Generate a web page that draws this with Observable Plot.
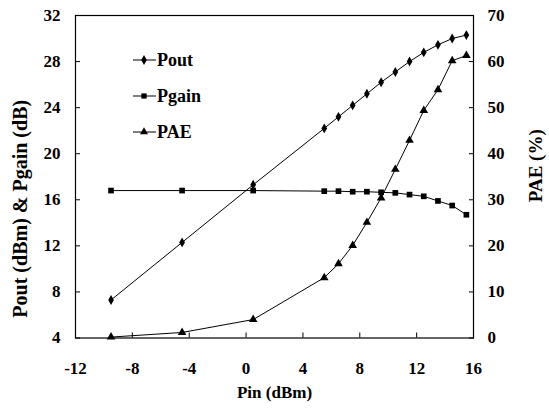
<!DOCTYPE html>
<html><head><meta charset="utf-8">
<script src="https://cdn.jsdelivr.net/npm/d3@7"></script>
<script src="https://cdn.jsdelivr.net/npm/@observablehq/plot@0.6"></script>
<style>
body{margin:0;background:#fff;overflow:hidden;}
#wrap{position:relative;width:549px;height:416px;}
#legend{position:absolute;left:130px;top:42px;}
</style></head>
<body><div id="wrap"><div id="chart"></div><svg id="legend" width="110" height="110"></svg></div>
<script>
const pin   = [-9.5, -4.5, 0.5, 5.5, 6.5, 7.5, 8.5, 9.5, 10.5, 11.5, 12.5, 13.5, 14.5, 15.5];
const pout  = [7.3, 12.3, 17.3, 22.2, 23.2, 24.2, 25.2, 26.2, 27.1, 28.0, 28.8, 29.45, 30.0, 30.3];
const pgain = [16.8, 16.8, 16.8, 16.75, 16.75, 16.7, 16.7, 16.65, 16.6, 16.45, 16.3, 15.9, 15.5, 14.7];
const pae   = [0.2, 1.2, 4.0, 13.1, 16.1, 20.1, 25.1, 30.4, 36.6, 42.9, 49.4, 53.9, 60.2, 61.3];
const xTicks = [-12, -8, -4, 0, 4, 8, 12, 16];
const leftTicks = [4, 8, 12, 16, 20, 24, 28, 32];
const rightTicks = [0, 10, 20, 30, 40, 50, 60, 70];
const seriesNames = ["Pout", "Pgain", "PAE"];
const symbols = ["diamond", "square", "triangle"];

const FF = "Times New Roman, Liberation Serif, Tinos, serif";
const FW = "bold";

// map PAE (0..70) onto left scale (4..32)
const toLeft = v => 4 + (v - 0) * (32 - 4) / (70 - 0);
const rows = pin.map((x, i) => ({x, pout: pout[i], pgain: pgain[i], pae: toLeft(pae[i])}));

function draw() {
  const chart = Plot.plot({
    width: 549, height: 416,
    marginLeft: 75, marginRight: 76, marginTop: 15, marginBottom: 78.5,
    style: {background: "#fff", color: "#000", fontFamily: FF},
    x: {domain: [-12, 16]},
    y: {domain: [4, 32]},
    marks: [
      Plot.frame({stroke: "#000", strokeWidth: 1.2}),
      Plot.axisX(xTicks, {tickSize: -5, tickPadding: 29, label: null, fontSize: 17, fontFamily: FF, fontWeight: FW, tickFormat: d => String(d)}),
      Plot.axisY(leftTicks, {anchor: "left", tickSize: -5, tickPadding: 20, label: null, fontSize: 17, fontFamily: FF, fontWeight: FW, tickFormat: d => String(d)}),
      Plot.axisY(rightTicks, {anchor: "right", y: toLeft, text: d => String(d), tickSize: -5, tickPadding: 19, label: null, fontSize: 17, fontFamily: FF, fontWeight: FW}),
      Plot.line(rows, {x: "x", y: "pout", stroke: "#000", strokeWidth: 1}),
      Plot.line(rows, {x: "x", y: "pgain", stroke: "#000", strokeWidth: 1}),
      Plot.line(rows, {x: "x", y: "pae", stroke: "#000", strokeWidth: 1}),
      Plot.dot(rows, {x: "x", y: "pout", symbol: "diamond", r: 3, fill: "#000"}),
      Plot.dot(rows, {x: "x", y: "pgain", symbol: "square", r: 3.2, fill: "#000"}),
      Plot.dot(rows, {x: "x", y: "pae", symbol: "triangle", r: 3.2, fill: "#000"}),
      Plot.text(["Pout (dBm) & Pgain (dB)"], {frameAnchor: "left", textAnchor: "middle", dx: -55, dy: 32, rotate: -90, fontSize: 20, fontFamily: FF, fontWeight: FW, fill: "#000"}),
      Plot.text(["PAE (%)"], {frameAnchor: "right", textAnchor: "middle", dx: 62, dy: -11, rotate: -90, fontSize: 19, fontFamily: FF, fontWeight: FW, fill: "#000"}),
      Plot.text(["Pin (dBm)"], {frameAnchor: "bottom", dy: 60, fontSize: 17, fontFamily: FF, fontWeight: FW, fill: "#000"})
    ]
  });
  document.getElementById("chart").replaceChildren(chart);

  const lg = d3.select("#legend");
  lg.selectAll("*").remove();
  const symGen = {diamond: d3.symbolDiamond, square: d3.symbolSquare, triangle: d3.symbolTriangle};
  seriesNames.forEach((name, i) => {
    const g = lg.append("g").attr("transform", `translate(0,${18 + i * 36})`);
    g.append("line").attr("x1", 3).attr("x2", 26).attr("stroke", "#000").attr("stroke-width", 1);
    g.append("path").attr("d", d3.symbol(symGen[symbols[i]], 28)()).attr("transform", "translate(14,0)").attr("fill", "#000");
    g.append("text").attr("x", 27).attr("dy", "0.35em").attr("font-family", FF).attr("font-weight", FW)
      .attr("font-size", 18).attr("fill", "#000").text(name);
  });
}
draw();
if (document.fonts) {
  document.fonts.load('bold 17px "Times New Roman"').then(draw, draw);
}
</script></body></html>
